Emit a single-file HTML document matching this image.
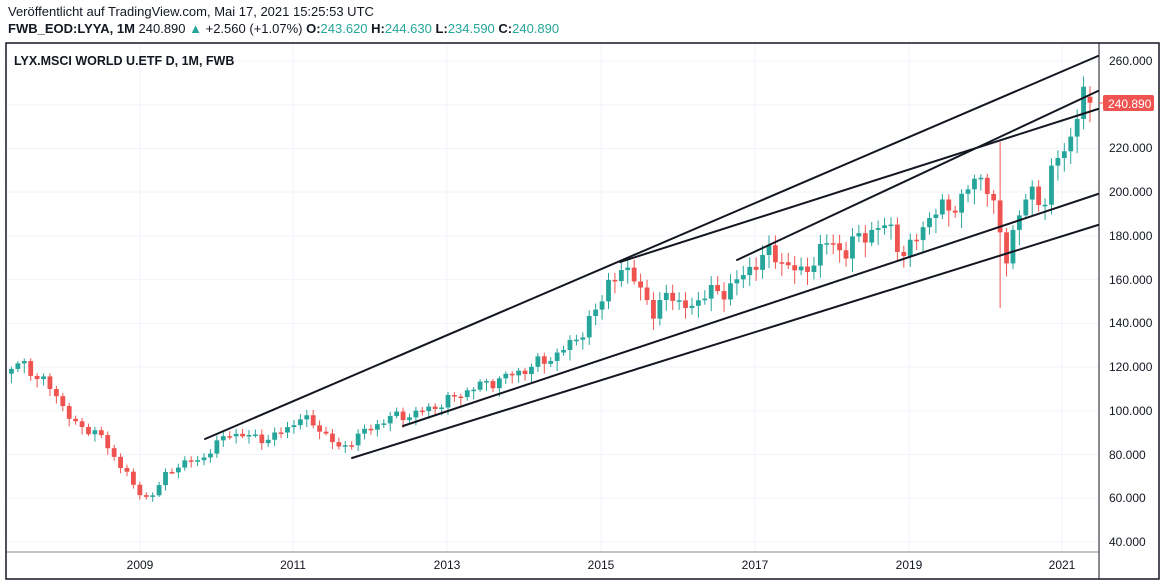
<!DOCTYPE html>
<html><head><meta charset="utf-8"><style>
body{margin:0;background:#fff;width:1166px;height:587px;overflow:hidden;font-family:"Liberation Sans",sans-serif}
.t1{position:absolute;left:8px;top:4px;font-size:13px;color:#131722}
.t2{position:absolute;left:8px;top:21px;font-size:13px;color:#131722}
.g{color:#26a69a}
svg{position:absolute;left:0;top:0}
</style></head><body>
<div class="t1">Veröffentlicht auf TradingView.com, Mai 17, 2021 15:25:53 UTC</div>
<div class="t2"><b>FWB_EOD:LYYA, 1M</b> 240.890 <span class="g">▲</span> +2.560 (+1.07%) <b>O:</b><span class="g">243.620</span> <b>H:</b><span class="g">244.630</span> <b>L:</b><span class="g">234.590</span> <b>C:</b><span class="g">240.890</span></div>
<svg id="s" width="1166" height="587" xmlns="http://www.w3.org/2000/svg">
<g id="grid" stroke="#f0f3fa" stroke-width="1"></g>
<g id="c"></g>
<g stroke="#131722" stroke-width="2" stroke-linecap="round">
<line x1="205" y1="439" x2="1098" y2="56"/>
<line x1="620" y1="262" x2="1098" y2="109"/>
<line x1="737" y1="260" x2="1098" y2="91"/>
<line x1="403" y1="426" x2="1098" y2="194"/>
<line x1="352" y1="458" x2="1098" y2="225"/>
</g>
<rect x="6" y="43" width="1153" height="536" fill="none" stroke="#131722" stroke-width="1.5"/>
<line x1="1099" y1="43" x2="1099" y2="579" stroke="#131722" stroke-width="1"/>
<line x1="6" y1="552" x2="1099" y2="552" stroke="#131722" stroke-width="0.6"/>
<text x="14" y="65" font-size="12.5" font-weight="bold" fill="#131722">LYX.MSCI WORLD U.ETF D, 1M, FWB</text>
<g font-size="12" fill="#131722">
<text x="1109" y="65">260.000</text><text x="1109" y="152">220.000</text>
<text x="1109" y="196">200.000</text><text x="1109" y="240">180.000</text><text x="1109" y="284">160.000</text>
<text x="1109" y="327">140.000</text><text x="1109" y="371">120.000</text><text x="1109" y="415">100.000</text>
<text x="1109" y="459">80.000</text><text x="1109" y="502">60.000</text><text x="1109" y="546">40.000</text>
</g>
<rect x="1103" y="95" width="51" height="16" rx="2" fill="#ef5350"/>
<line x1="1099" y1="103" x2="1104" y2="103" stroke="#ef5350"/>
<text x="1108" y="108" font-size="12" fill="#fff">240.890</text>
<g font-size="12" fill="#131722" text-anchor="middle">
<text x="140" y="569">2009</text><text x="293" y="569">2011</text><text x="447" y="569">2013</text>
<text x="601" y="569">2015</text><text x="755" y="569">2017</text><text x="909" y="569">2019</text><text x="1062" y="569">2021</text>
</g>
</svg>
<script>
function Y(p){return 61+(260-p)*2.186;}
var gr=document.getElementById("grid"),h="";
for(var p=40;p<=260;p+=20)h+='<line x1="6" x2="1099" y1="'+Y(p)+'" y2="'+Y(p)+'"/>';
[140,293,447,601,755,909,1062].forEach(function(x){h+='<line y1="43" y2="552" x1="'+x+'" x2="'+x+'"/>';});
gr.innerHTML=h;
var A=[[8,118],[20,122],[40,115],[60,105],[75,93],[100,90],[110,80],[125,74],[135,63],[150,60],[165,70],[180,76],[200,77],[210,82],[230,90],[250,88],[270,87],[290,93],[300,97],[320,92],[340,82],[350,86],[370,92],[390,97],[410,98],[430,101],[450,105],[470,110],[490,113],[510,116],[530,120],[550,124],[570,130],[585,138],[600,148],[610,162],[620,162],[635,163],[645,152],[655,140],[665,158],[680,146],[695,150],[710,154],[725,155],[740,160],[755,168],[770,172],[785,168],[800,162],[815,170],[830,178],[845,172],[860,180],[875,183],[890,184],[905,170],[915,178],[930,190],[945,192],[960,196],[975,205],[985,208],[995,191],[1005,167],[1015,187],[1025,195],[1035,200],[1045,196],[1055,215],[1065,218],[1075,235],[1085,243],[1092,240.9]];
function f(x){for(var i=0;i<A.length-1;i++){if(x<=A[i+1][0]){var t=(x-A[i][0])/(A[i+1][0]-A[i][0]);return A[i][1]+t*(A[i+1][1]-A[i][1]);}}return 240.9;}
var out="",prev=117;
for(var i=0;i<169;i++){
 var x=1090-(168-i)*6.42;
 var c=f(x)*(1+0.028*Math.sin(i*2.7)*Math.cos(i*1.3));
 if(i==168)c=240.89;
 var o=prev; if(i==168)o=243.62;
 var hi=Math.max(o,c)*(1+0.008+0.018*Math.abs(Math.sin(i*3.1)));
 var lo=Math.min(o,c)*(1-0.008-0.03*Math.abs(Math.cos(i*1.7)));
 if(i==154){hi=223;lo=147;}
 var col=c>=o?"#26a69a":"#ef5350";
 var y1=Y(Math.max(o,c)),y2=Y(Math.min(o,c));if(y2-y1<1.5)y2=y1+1.5;
 out+='<line x1="'+x+'" x2="'+x+'" y1="'+Y(hi)+'" y2="'+Y(lo)+'" stroke="'+col+'"/>';
 out+='<rect x="'+(x-2.4)+'" y="'+y1+'" width="4.8" height="'+(y2-y1)+'" fill="'+col+'"/>';
 prev=c;
}
document.getElementById("c").innerHTML=out;
</script>
</body></html>
